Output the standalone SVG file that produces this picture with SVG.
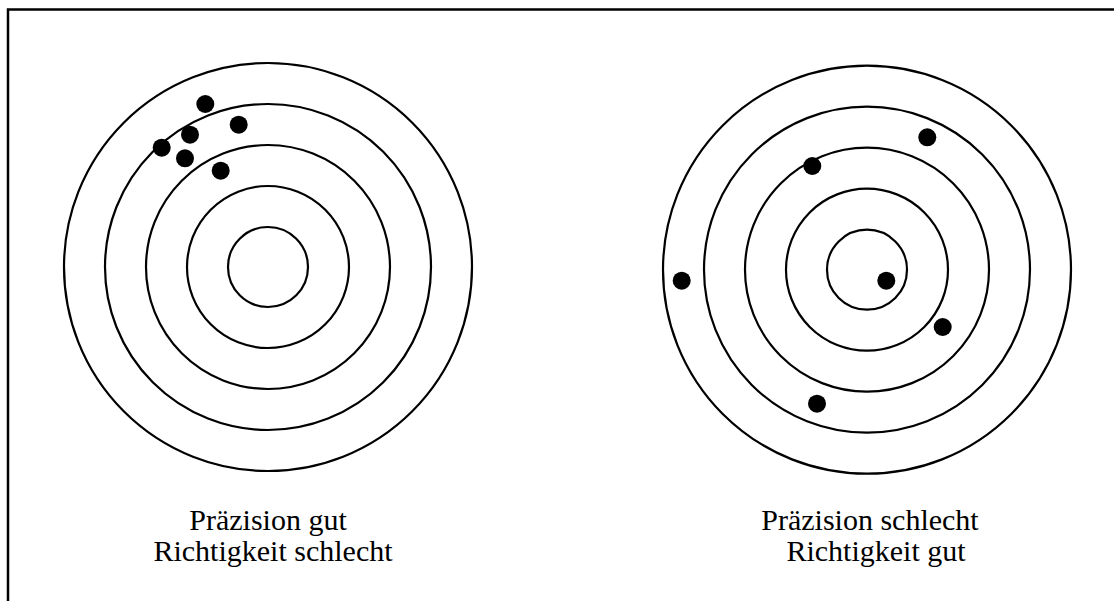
<svg xmlns="http://www.w3.org/2000/svg" width="1114" height="601" viewBox="0 0 1114 601">
<style>
.ring{fill:none;stroke:#000;stroke-width:2.2}
.hit{fill:#000}
.lbl{font-family:"Liberation Serif","Times New Roman",serif;font-size:30px;fill:#000;text-anchor:middle}
</style>
<rect x="0" y="0" width="1114" height="601" fill="#fff"/>
<rect x="8" y="9.5" width="1200" height="700" fill="none" stroke="#000" stroke-width="2.5"/>
<g id="target-left">
<circle class="ring" cx="268" cy="267" r="204"/>
<circle class="ring" cx="268" cy="267" r="163"/>
<circle class="ring" cx="268" cy="267" r="122"/>
<circle class="ring" cx="268" cy="267" r="81"/>
<circle class="ring" cx="268" cy="267" r="40"/>
<circle class="hit" cx="205.3" cy="104" r="9"/>
<circle class="hit" cx="238.7" cy="124.7" r="9"/>
<circle class="hit" cx="190" cy="134.7" r="9"/>
<circle class="hit" cx="161.7" cy="147.7" r="9"/>
<circle class="hit" cx="185" cy="158.3" r="9"/>
<circle class="hit" cx="220.7" cy="170.7" r="9"/>
</g>
<g id="target-right">
<circle class="ring" cx="867" cy="269.7" r="204"/>
<circle class="ring" cx="867" cy="269.7" r="163"/>
<circle class="ring" cx="867" cy="269.7" r="122"/>
<circle class="ring" cx="867" cy="269.7" r="81"/>
<circle class="ring" cx="867" cy="269.7" r="40"/>
<circle class="hit" cx="927.3" cy="137.3" r="9"/>
<circle class="hit" cx="812.3" cy="166" r="9"/>
<circle class="hit" cx="681.7" cy="280.7" r="9"/>
<circle class="hit" cx="886.3" cy="280.7" r="9"/>
<circle class="hit" cx="942.7" cy="327" r="9"/>
<circle class="hit" cx="817" cy="403.7" r="9"/>
</g>
<g id="label-left">
<text class="lbl" x="268" y="530">Präzision gut</text>
<text class="lbl" x="273" y="561">Richtigkeit schlecht</text>
</g>
<g id="label-right">
<text class="lbl" x="870" y="530">Präzision schlecht</text>
<text class="lbl" x="876" y="561">Richtigkeit gut</text>
</g>
<g id="connectors"/>
</svg>
